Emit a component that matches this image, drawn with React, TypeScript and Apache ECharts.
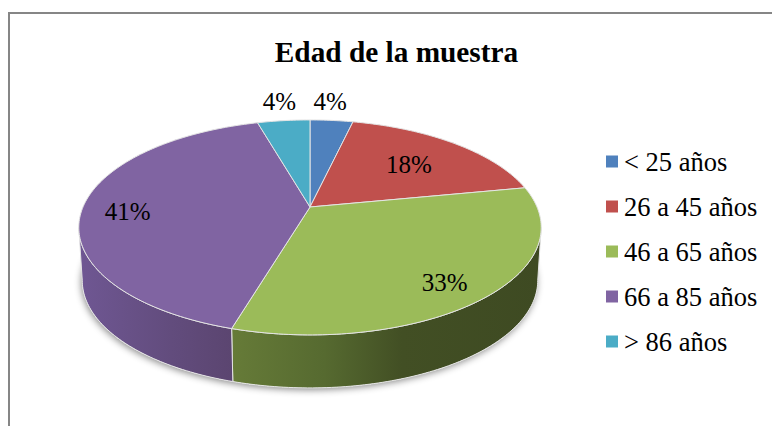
import React, { useEffect, useRef } from "react";
import * as echarts from "echarts";

const titleText = "Edad de la muestra";
const categories = ["< 25 años", "26 a 45 años", "46 a 65 años", "66 a 85 años", "> 86 años"];
const percentages = [3.6, 18.3, 32.6, 41.0, 4.4];
const topColors = ["#4f81bd", "#c0504d", "#9bbb59", "#8064a2", "#4bacc6"];

// Projection of the tilted pie (a circle seen in perspective).
const APEX_X = 310;
const APEX_Y = 207;
const SCALE_X = 227;
const SCALE_Y = 103.6;
const PERSPECTIVE = 0.19;
const DEPTH = 53;
const BASE_SCALE = 0.985;
const WALL_FROM = (101 * Math.PI) / 180;
const WALL_TO = (259 * Math.PI) / 180;

// Label placement: radius along each slice's mid angle, plus a small nudge.
const labelRadius = [1.2, 0.68, 0.82, 0.8, 1.2];
const labelNudge = [
  [-5, -5],
  [-3, 2],
  [-7, 5],
  [-1, 5],
  [0, -5],
];

const wallStops: Record<number, [number, string][]> = {
  2: [
    [0, "#667b38"],
    [0.3, "#566a30"],
    [0.55, "#424f24"],
    [1, "#3e4a22"],
  ],
  3: [
    [0, "#6f5793"],
    [0.6, "#624c7d"],
    [1, "#5b4570"],
  ],
};

const total = percentages.reduce((a, b) => a + b, 0);

function project(theta: number, r = 1, base = false): number[] {
  const u = r * Math.sin(theta);
  const v = -r * Math.cos(theta);
  const d = 1 - PERSPECTIVE * v;
  const x = (SCALE_X * u) / d;
  const y = (SCALE_Y * v) / d;
  return base ? [APEX_X + x * BASE_SCALE, APEX_Y + y + DEPTH] : [APEX_X + x, APEX_Y + y];
}

function arc(from: number, to: number, base = false): number[][] {
  const n = Math.max(2, Math.ceil(((to - from) * 180) / Math.PI));
  const pts: number[][] = [];
  for (let i = 0; i <= n; i++) pts.push(project(from + ((to - from) * i) / n, 1, base));
  return pts;
}

function makeRenderItem(index: number) {
  return (_params: any, api: any) => {
    const before = percentages.slice(0, index).reduce((a, b) => a + b, 0);
    const value = api.value(0);
    const start = (before / total) * Math.PI * 2;
    const end = ((before + value) / total) * Math.PI * 2;
    const mid = (start + end) / 2;
    const children: any[] = [];

    if (index === 0) {
      children.push({
        type: "polygon",
        shape: { points: arc(0, Math.PI * 2, true) },
        style: {
          fill: "#ffffff",
          shadowColor: "rgba(0,0,0,0.45)",
          shadowBlur: 7,
          shadowOffsetX: -1,
          shadowOffsetY: 2,
        },
      });
    }

    const wallStart = Math.max(start, WALL_FROM);
    const wallEnd = Math.min(end, WALL_TO);
    if (wallEnd > wallStart) {
      const top = arc(wallStart, wallEnd);
      const bottom = arc(wallStart, wallEnd, true).reverse();
      children.push({
        type: "polygon",
        shape: { points: top.concat(bottom) },
        style: {
          fill: new echarts.graphic.LinearGradient(
            0,
            0,
            1,
            0,
            (wallStops[index] || [[0, topColors[index]]]).map(([offset, color]) => ({ offset, color })),
          ),
          stroke: "#e4e4e4",
          lineWidth: 1,
        },
      });
    }

    children.push({
      type: "polygon",
      shape: { points: [[APEX_X, APEX_Y], ...arc(start, end)] },
      style: { fill: topColors[index], stroke: "#e4e4e4", lineWidth: 1 },
    });

    const [lx, ly] = project(mid, labelRadius[index]);
    children.push({
      type: "text",
      x: lx + labelNudge[index][0],
      y: ly + labelNudge[index][1],
      style: {
        text: `${Math.round(value)}%`,
        fill: "#000000",
        font: '25px "Liberation Serif"',
        align: "center",
        verticalAlign: "middle",
      },
    });

    return { type: "group", children };
  };
}

export default function App() {
  const ref = useRef<HTMLDivElement>(null);

  useEffect(() => {
    document.body.style.margin = "0";
    const chart = echarts.init(ref.current!, null, { renderer: "svg" });
    chart.setOption({
      animation: false,
      color: topColors,
      title: {
        text: titleText,
        left: 391.5,
        top: 32,
        textAlign: "center",
        textStyle: { fontFamily: "Liberation Serif", fontWeight: "bold", fontSize: 29.3, color: "#000000" },
      },
      legend: {
        orient: "vertical",
        left: 601,
        top: 141,
        icon: "rect",
        itemWidth: 12,
        itemHeight: 12,
        itemGap: 14,
        data: categories,
        selectedMode: false,
        textStyle: { fontFamily: "Liberation Serif", fontSize: 26.5, color: "#000000", lineHeight: 27, padding: [4, 0, 0, 1] },
      },
      graphic: [
        {
          type: "polyline",
          silent: true,
          shape: { points: [[9, 426], [9, 13], [772, 13]] },
          style: { stroke: "#868686", lineWidth: 2, fill: "none" },
        },
      ],
      series: categories.map((name, i) => ({
        type: "custom",
        name,
        coordinateSystem: "none",
        renderItem: makeRenderItem(i),
        data: [[percentages[i]]],
        itemStyle: { color: topColors[i] },
        silent: true,
      })),
    });
    return () => chart.dispose();
  }, []);

  return <div ref={ref} style={{ position: "absolute", left: 0, top: 0, width: 772, height: 426, background: "#ffffff" }} />;
}
